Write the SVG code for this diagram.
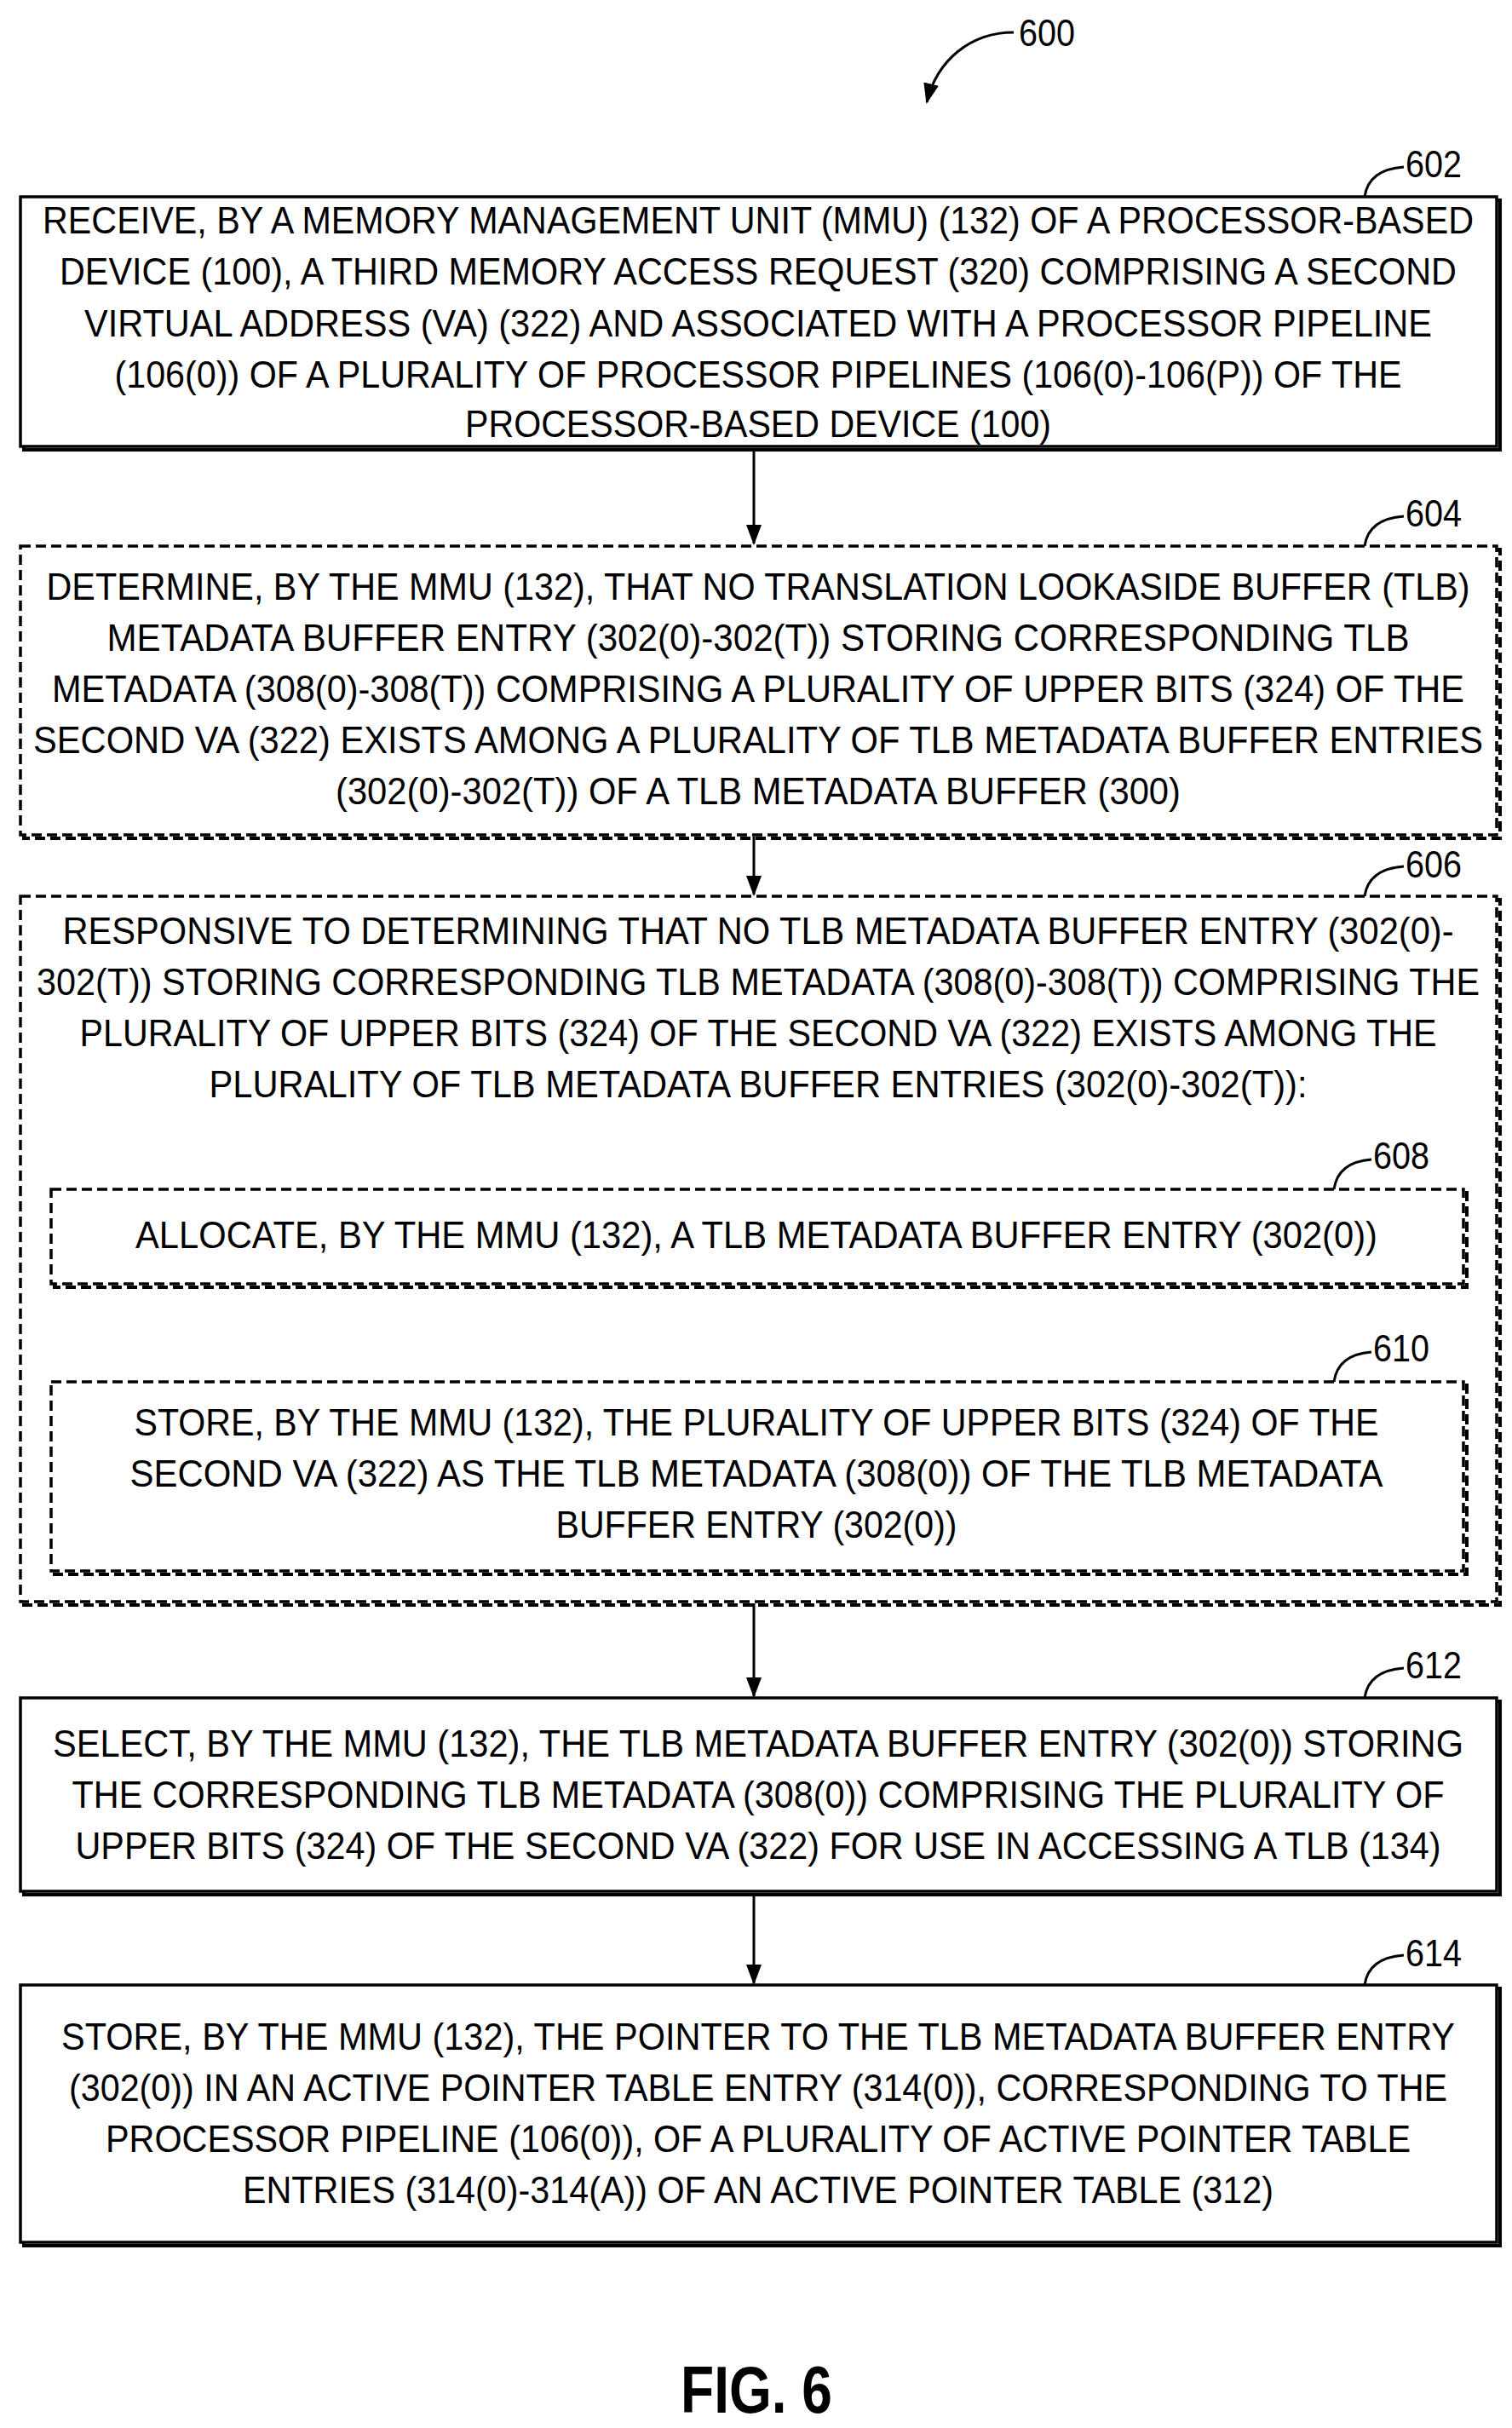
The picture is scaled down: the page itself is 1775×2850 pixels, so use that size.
<svg xmlns="http://www.w3.org/2000/svg" width="1775" height="2850" viewBox="0 0 1775 2850">
<style>
text{font-family:"Liberation Sans",Arial,sans-serif;font-size:45px;fill:#000}
.t{text-anchor:middle}
.b{fill:#fff;stroke:#000;stroke-width:3.5}
.d{fill:#fff;stroke:#000;stroke-width:3.5;stroke-dasharray:12 6}
.s{fill:none;stroke:#000;stroke-width:4}
.sd{fill:none;stroke:#000;stroke-width:4;stroke-dasharray:12 6}
.l{fill:none;stroke:#000;stroke-width:3}
</style>
<defs><marker id="a" markerWidth="10" markerHeight="14" refX="9" refY="7" orient="auto" markerUnits="userSpaceOnUse" viewBox="0 0 10 14"><path d="M0,0 L10,7 L0,14 Z"/></marker>
<marker id="h" markerWidth="24" markerHeight="36" refX="22" refY="9" orient="auto" markerUnits="userSpaceOnUse" viewBox="0 0 24 18"><path d="M0,0 L24,9 L0,18 Z"/></marker></defs>
<g id="title600"><path class="l" d="M1190,38 C1140,38 1100,70 1088,120" marker-end="url(#h)"/><text x="1196" y="54" textLength="66" lengthAdjust="spacingAndGlyphs">600</text></g>
<g id="connectors" fill="none" stroke="#000" stroke-width="3">
<line x1="885" y1="526" x2="885" y2="638" marker-end="url(#h)"/>
<line x1="885" y1="982" x2="885" y2="1050" marker-end="url(#h)"/>
<line x1="885" y1="1509" x2="885" y2="1620" marker-end="url(#h)"/>
<line x1="885" y1="1882" x2="885" y2="1991" marker-end="url(#h)"/>
<line x1="885" y1="2222" x2="885" y2="2328" marker-end="url(#h)"/>
</g>
<g id="n602"><rect x="28" y="235" width="1733" height="293" class="s"/><rect x="24" y="231" width="1733" height="293" class="b"/>
<path class="l" d="M1602,231 C1605,210 1620,198 1648,196"/><text x="1650" y="208" textLength="66" lengthAdjust="spacingAndGlyphs">602</text>
<text class="t" x="890" y="274" textLength="1680" lengthAdjust="spacingAndGlyphs">RECEIVE, BY A MEMORY MANAGEMENT UNIT (MMU) (132) OF A PROCESSOR-BASED</text>
<text class="t" x="890" y="334" textLength="1640" lengthAdjust="spacingAndGlyphs">DEVICE (100), A THIRD MEMORY ACCESS REQUEST (320) COMPRISING A SECOND</text>
<text class="t" x="890" y="395" textLength="1582" lengthAdjust="spacingAndGlyphs">VIRTUAL ADDRESS (VA) (322) AND ASSOCIATED WITH A PROCESSOR PIPELINE</text>
<text class="t" x="890" y="455" textLength="1511" lengthAdjust="spacingAndGlyphs">(106(0)) OF A PLURALITY OF PROCESSOR PIPELINES (106(0)-106(P)) OF THE</text>
<text class="t" x="890" y="513" textLength="688" lengthAdjust="spacingAndGlyphs">PROCESSOR-BASED DEVICE (100)</text></g>
<g id="n604"><rect x="28" y="645" width="1733" height="339" class="sd"/><rect x="24" y="641" width="1733" height="339" class="d"/>
<path class="l" d="M1602,641 C1605,620 1620,608 1648,606"/><text x="1650" y="618" textLength="66" lengthAdjust="spacingAndGlyphs">604</text>
<text class="t" x="890" y="704" textLength="1671" lengthAdjust="spacingAndGlyphs">DETERMINE, BY THE MMU (132), THAT NO TRANSLATION LOOKASIDE BUFFER (TLB)</text>
<text class="t" x="890" y="764" textLength="1529" lengthAdjust="spacingAndGlyphs">METADATA BUFFER ENTRY (302(0)-302(T)) STORING CORRESPONDING TLB</text>
<text class="t" x="890" y="824" textLength="1658" lengthAdjust="spacingAndGlyphs">METADATA (308(0)-308(T)) COMPRISING A PLURALITY OF UPPER BITS (324) OF THE</text>
<text class="t" x="890" y="884" textLength="1702" lengthAdjust="spacingAndGlyphs">SECOND VA (322) EXISTS AMONG A PLURALITY OF TLB METADATA BUFFER ENTRIES</text>
<text class="t" x="890" y="944" textLength="992" lengthAdjust="spacingAndGlyphs">(302(0)-302(T)) OF A TLB METADATA BUFFER (300)</text></g>
<g id="n606"><rect x="28" y="1056" width="1733" height="828" class="sd"/><rect x="24" y="1052" width="1733" height="828" class="d"/>
<path class="l" d="M1602,1052 C1605,1031 1620,1019 1648,1017"/><text x="1650" y="1030" textLength="66" lengthAdjust="spacingAndGlyphs">606</text>
<text class="t" x="890" y="1108" textLength="1633" lengthAdjust="spacingAndGlyphs">RESPONSIVE TO DETERMINING THAT NO TLB METADATA BUFFER ENTRY (302(0)-</text>
<text class="t" x="890" y="1168" textLength="1694" lengthAdjust="spacingAndGlyphs">302(T)) STORING CORRESPONDING TLB METADATA (308(0)-308(T)) COMPRISING THE</text>
<text class="t" x="890" y="1228" textLength="1593" lengthAdjust="spacingAndGlyphs">PLURALITY OF UPPER BITS (324) OF THE SECOND VA (322) EXISTS AMONG THE</text>
<text class="t" x="890" y="1288" textLength="1289" lengthAdjust="spacingAndGlyphs">PLURALITY OF TLB METADATA BUFFER ENTRIES (302(0)-302(T)):</text></g>
<g id="n608"><rect x="64" y="1400" width="1658" height="111" class="sd"/><rect x="60" y="1396" width="1658" height="111" class="d"/>
<path class="l" d="M1566,1396 C1569,1375 1584,1363 1610,1361"/><text x="1612" y="1372" textLength="66" lengthAdjust="spacingAndGlyphs">608</text>
<text class="t" x="888" y="1465" textLength="1458" lengthAdjust="spacingAndGlyphs">ALLOCATE, BY THE MMU (132), A TLB METADATA BUFFER ENTRY (302(0))</text></g>
<g id="n610"><rect x="64" y="1626" width="1658" height="222" class="sd"/><rect x="60" y="1622" width="1658" height="222" class="d"/>
<path class="l" d="M1566,1622 C1569,1601 1584,1589 1610,1587"/><text x="1612" y="1598" textLength="66" lengthAdjust="spacingAndGlyphs">610</text>
<text class="t" x="888" y="1685" textLength="1461" lengthAdjust="spacingAndGlyphs">STORE, BY THE MMU (132), THE PLURALITY OF UPPER BITS (324) OF THE</text>
<text class="t" x="888" y="1745" textLength="1471" lengthAdjust="spacingAndGlyphs">SECOND VA (322) AS THE TLB METADATA (308(0)) OF THE TLB METADATA</text>
<text class="t" x="888" y="1805" textLength="471" lengthAdjust="spacingAndGlyphs">BUFFER ENTRY (302(0))</text></g>
<g id="n612"><rect x="28" y="1997" width="1733" height="227" class="s"/><rect x="24" y="1993" width="1733" height="227" class="b"/>
<path class="l" d="M1602,1993 C1605,1972 1620,1960 1648,1958"/><text x="1650" y="1970" textLength="66" lengthAdjust="spacingAndGlyphs">612</text>
<text class="t" x="890" y="2062" textLength="1656" lengthAdjust="spacingAndGlyphs">SELECT, BY THE MMU (132), THE TLB METADATA BUFFER ENTRY (302(0)) STORING</text>
<text class="t" x="890" y="2122" textLength="1611" lengthAdjust="spacingAndGlyphs">THE CORRESPONDING TLB METADATA (308(0)) COMPRISING THE PLURALITY OF</text>
<text class="t" x="890" y="2182" textLength="1603" lengthAdjust="spacingAndGlyphs">UPPER BITS (324) OF THE SECOND VA (322) FOR USE IN ACCESSING A TLB (134)</text></g>
<g id="n614"><rect x="28" y="2334" width="1733" height="302" class="s"/><rect x="24" y="2330" width="1733" height="302" class="b"/>
<path class="l" d="M1602,2330 C1605,2309 1620,2297 1648,2295"/><text x="1650" y="2308" textLength="66" lengthAdjust="spacingAndGlyphs">614</text>
<text class="t" x="890" y="2406" textLength="1636" lengthAdjust="spacingAndGlyphs">STORE, BY THE MMU (132), THE POINTER TO THE TLB METADATA BUFFER ENTRY</text>
<text class="t" x="890" y="2466" textLength="1618" lengthAdjust="spacingAndGlyphs">(302(0)) IN AN ACTIVE POINTER TABLE ENTRY (314(0)), CORRESPONDING TO THE</text>
<text class="t" x="890" y="2526" textLength="1532" lengthAdjust="spacingAndGlyphs">PROCESSOR PIPELINE (106(0)), OF A PLURALITY OF ACTIVE POINTER TABLE</text>
<text class="t" x="890" y="2586" textLength="1210" lengthAdjust="spacingAndGlyphs">ENTRIES (314(0)-314(A)) OF AN ACTIVE POINTER TABLE (312)</text></g>
<text class="t" x="888" y="2832" style="font-size:78px;font-weight:bold" textLength="178" lengthAdjust="spacingAndGlyphs">FIG. 6</text>
</svg>
